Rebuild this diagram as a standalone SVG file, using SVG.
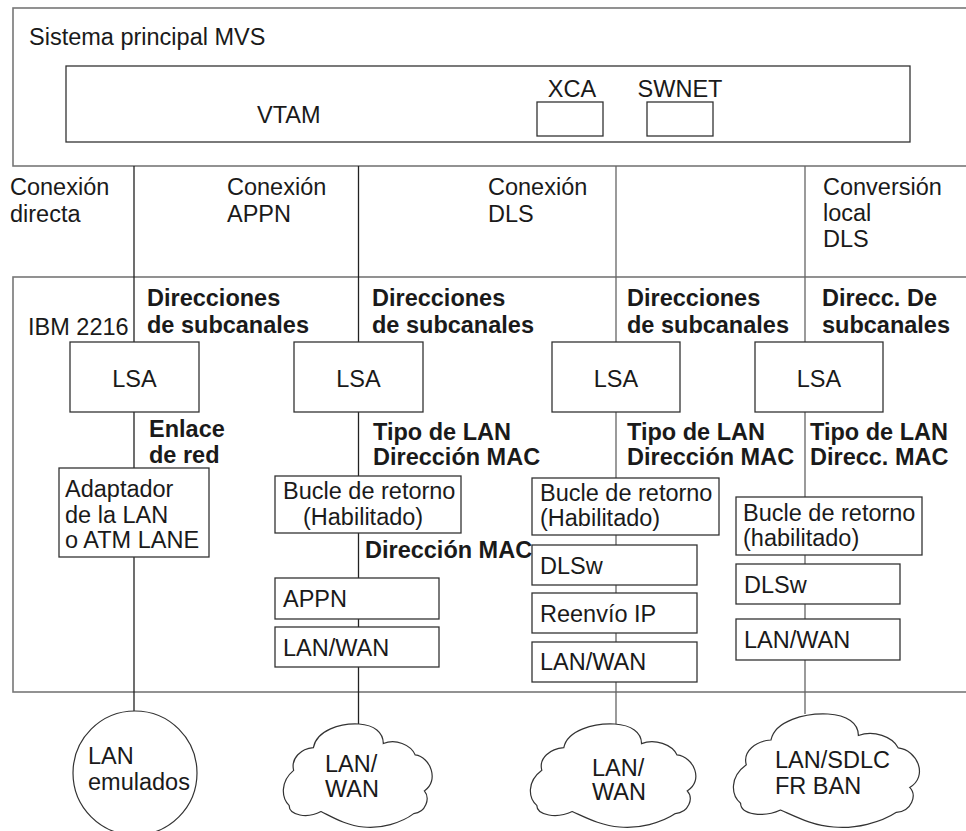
<svg xmlns="http://www.w3.org/2000/svg" width="966" height="831" viewBox="0 0 966 831">
<style>
.t{font-family:"Liberation Sans",Arial,sans-serif;font-size:23.5px;fill:#1a1a1a}
.b{font-family:"Liberation Sans",Arial,sans-serif;font-size:23.5px;font-weight:bold;fill:#1a1a1a}
.m{text-anchor:middle}
.outer{fill:none;stroke:#777;stroke-width:1.6}
.box{fill:#fff;stroke:#333;stroke-width:1.3}
.ln{fill:none;stroke:#222;stroke-width:1.3}
.lg{fill:none;stroke:#666;stroke-width:1.3}
.cloud{fill:#fff;stroke:#333;stroke-width:1.2}
</style>
<defs>
<path id="cloudShape" vector-effect="non-scaling-stroke" d="M20,23 C22,6 38,-1 50,0 C60,1 66,8 66,19 C74,14 84,20 87,30 C97,32 103,55 93,65 C97,72 94,86 86,87 C78,96 64,102 53,100 C42,99 32,90 25,85 C16,92 4,89 4,79 C-1,72 -2,56 7,45 C5,33 12,24 20,23 Z"/>
</defs>
<rect width="966" height="831" fill="#fff"/>

<g id="host">
<rect class="outer" x="13" y="8" width="970" height="158"/>
<text class="t" x="29" y="45">Sistema principal MVS</text>
</g>
<g id="vtam">
<rect class="box" x="66" y="66" width="844" height="76"/>
<text class="t" x="257" y="123">VTAM</text>
</g>
<g id="xca">
<text class="t m" x="572" y="97">XCA</text>
<rect class="box" x="537" y="102" width="66" height="34"/>
</g>
<g id="swnet">
<text class="t m" x="680" y="97">SWNET</text>
<rect class="box" x="647" y="102" width="66" height="34"/>
</g>

<g id="ibm2216">
<rect class="outer" x="13" y="277" width="970" height="415"/>
<text class="t" x="28" y="335">IBM 2216</text>
</g>

<g id="connectors">
<path class="ln" d="M134,166V342 M134,412V468 M134,557V711"/>
<path class="ln" d="M358.5,166V342 M358.5,412V476 M358.5,533V578 M358.5,619V627 M358.5,667V724"/>
<path class="lg" d="M616,166V342 M616,412V478 M616,535V545 M616,585V593 M616,633V642 M616,682V724"/>
<path class="lg" d="M805,166V342 M805,412V497 M805,555V564 M805,604V619 M805,660V714"/>
</g>

<g id="connection-labels">
<text class="t" x="10" y="195">Conexión</text>
<text class="t" x="10" y="222">directa</text>
<text class="t" x="227" y="195">Conexión</text>
<text class="t" x="227" y="222">APPN</text>
<text class="t" x="488" y="195">Conexión</text>
<text class="t" x="488" y="222">DLS</text>
<text class="t" x="823" y="195">Conversión</text>
<text class="t" x="823" y="221">local</text>
<text class="t" x="823" y="247">DLS</text>
</g>

<g id="subchannel-labels">
<text class="b" x="147" y="306">Direcciones</text>
<text class="b" x="147" y="333">de subcanales</text>
<text class="b" x="372" y="306">Direcciones</text>
<text class="b" x="372" y="333">de subcanales</text>
<text class="b" x="627" y="306">Direcciones</text>
<text class="b" x="627" y="333">de subcanales</text>
<text class="b" x="822" y="306">Direcc. De</text>
<text class="b" x="822" y="333">subcanales</text>
</g>

<g id="lsa1"><rect class="box" x="70" y="342" width="129" height="70"/><text class="t m" x="134.5" y="387">LSA</text></g>
<g id="lsa2"><rect class="box" x="294" y="342" width="129" height="70"/><text class="t m" x="358.5" y="387">LSA</text></g>
<g id="lsa3"><rect class="box" x="552" y="342" width="128" height="70"/><text class="t m" x="616" y="387">LSA</text></g>
<g id="lsa4"><rect class="box" x="755" y="342" width="128" height="70"/><text class="t m" x="819" y="387">LSA</text></g>

<g id="link-labels">
<text class="b" x="149" y="437">Enlace</text>
<text class="b" x="149" y="463">de red</text>
<text class="b" x="373" y="440">Tipo de LAN</text>
<text class="b" x="373" y="465">Dirección MAC</text>
<text class="b" x="627" y="440">Tipo de LAN</text>
<text class="b" x="627" y="465">Dirección MAC</text>
<text class="b" x="810" y="440">Tipo de LAN</text>
<text class="b" x="810" y="465">Direcc. MAC</text>
<text class="b" x="365" y="558">Dirección MAC</text>
</g>

<g id="adaptador">
<rect class="box" x="59" y="468" width="150" height="89"/>
<text class="t" x="65" y="497">Adaptador</text>
<text class="t" x="65" y="523">de la LAN</text>
<text class="t" x="65" y="548">o ATM LANE</text>
</g>

<g id="bucle2">
<rect class="box" x="275" y="476" width="186" height="57"/>
<text class="t" x="283" y="499">Bucle de retorno</text>
<text class="t" x="303" y="525">(Habilitado)</text>
</g>
<g id="appn">
<rect class="box" x="275" y="578" width="164" height="41"/>
<text class="t" x="283" y="607">APPN</text>
</g>
<g id="lanwan2">
<rect class="box" x="275" y="627" width="164" height="40"/>
<text class="t" x="283" y="656">LAN/WAN</text>
</g>

<g id="bucle3">
<rect class="box" x="532" y="478" width="187" height="57"/>
<text class="t" x="540" y="501">Bucle de retorno</text>
<text class="t" x="540" y="526">(Habilitado)</text>
</g>
<g id="dlsw3">
<rect class="box" x="532" y="545" width="165" height="40"/>
<text class="t" x="540" y="574">DLSw</text>
</g>
<g id="reenvio">
<rect class="box" x="532" y="593" width="165" height="40"/>
<text class="t" x="540" y="622">Reenvío IP</text>
</g>
<g id="lanwan3">
<rect class="box" x="532" y="642" width="165" height="40"/>
<text class="t" x="540" y="670">LAN/WAN</text>
</g>

<g id="bucle4">
<rect class="box" x="736" y="497" width="186" height="58"/>
<text class="t" x="743" y="521">Bucle de retorno</text>
<text class="t" x="743" y="546">(habilitado)</text>
</g>
<g id="dlsw4">
<rect class="box" x="736" y="564" width="164" height="40"/>
<text class="t" x="744" y="593">DLSw</text>
</g>
<g id="lanwan4">
<rect class="box" x="736" y="619" width="164" height="41"/>
<text class="t" x="744" y="648">LAN/WAN</text>
</g>

<g id="lan-emulados">
<circle class="cloud" cx="135" cy="773" r="62"/>
<text class="t" x="88" y="764">LAN</text>
<text class="t" x="88" y="790">emulados</text>
</g>
<g id="cloud-appn">
<use href="#cloudShape" class="cloud" transform="translate(283,724) scale(1.52,1.03)"/>
<text class="t" x="325" y="772">LAN/</text>
<text class="t" x="325" y="797">WAN</text>
</g>
<g id="cloud-dls">
<use href="#cloudShape" class="cloud" transform="translate(530,724) scale(1.69,1.03)"/>
<text class="t" x="592" y="776">LAN/</text>
<text class="t" x="592" y="800">WAN</text>
</g>
<g id="cloud-local">
<use href="#cloudShape" class="cloud" transform="translate(733,714) scale(1.9,1.13)"/>
<text class="t" x="775" y="768">LAN/SDLC</text>
<text class="t" x="775" y="794">FR BAN</text>
</g>
</svg>
